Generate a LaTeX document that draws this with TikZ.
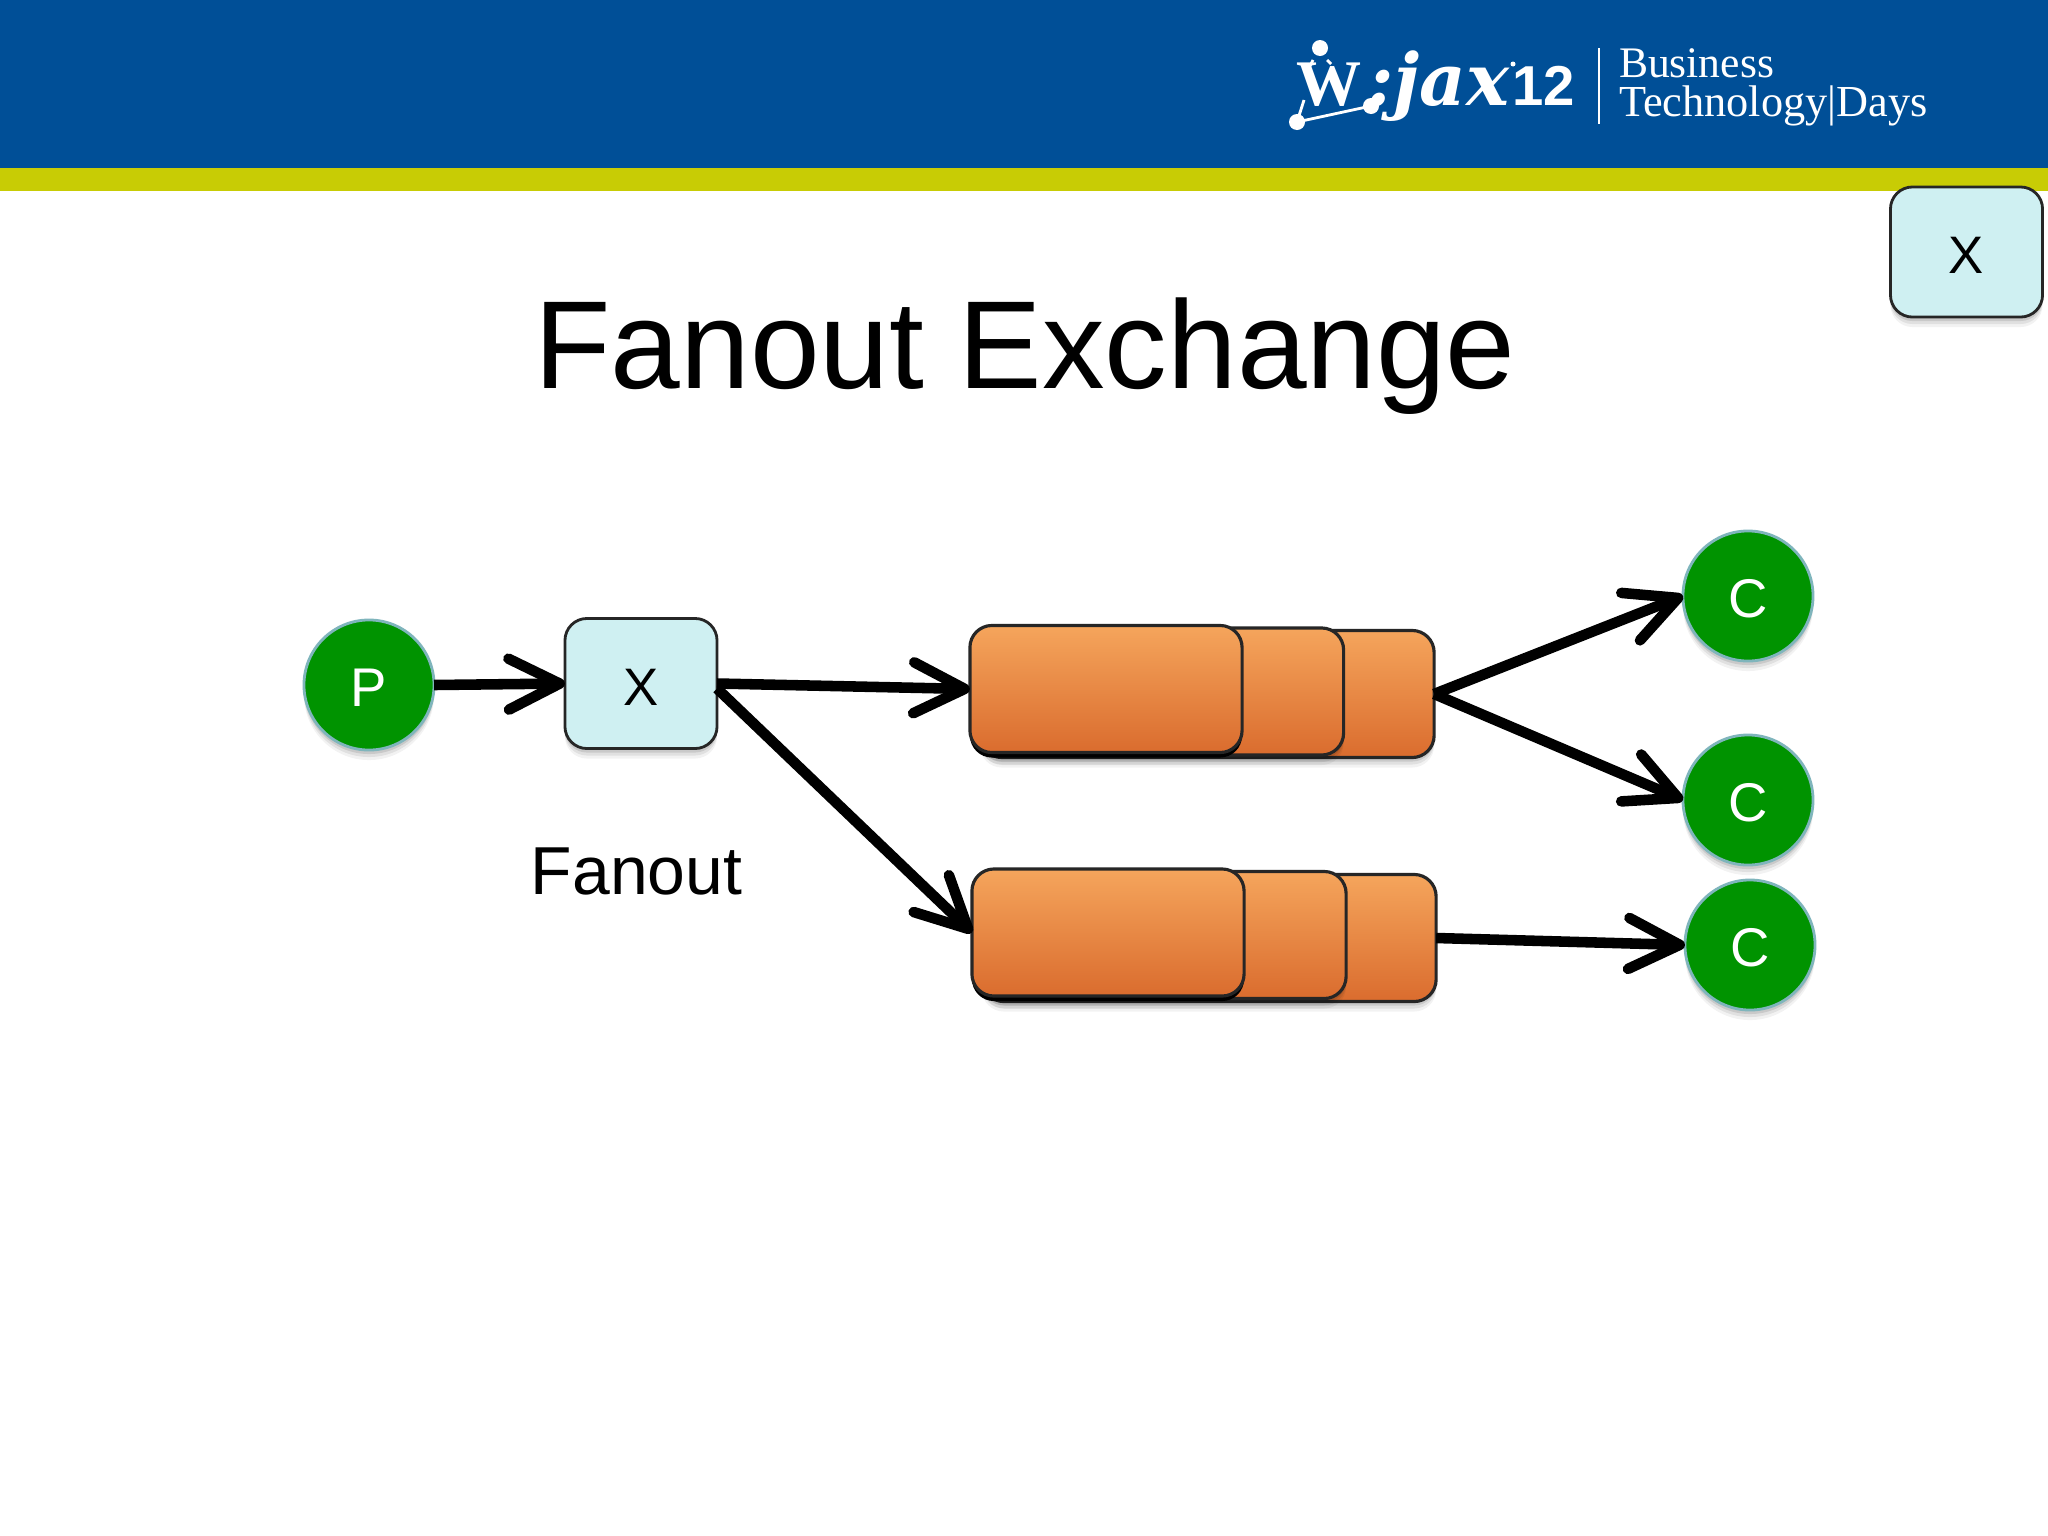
\documentclass[tikz,border=0pt]{standalone}
\usepackage{fontspec}
\setmainfont{Liberation Sans}
\newfontfamily\logoserif{Liberation Serif}
\newfontfamily\jaxfont{DejaVu Serif}
\usetikzlibrary{arrows.meta,shadows}
\definecolor{bandblue}{HTML}{004F97}
\definecolor{bandlime}{HTML}{C8CC05}
\definecolor{exchfill}{HTML}{CFF0F2}
\definecolor{roundgreen}{HTML}{009300}
\definecolor{roundedge}{HTML}{7FB5BC}
\definecolor{queuetop}{HTML}{F5A55C}
\definecolor{queuebot}{HTML}{DA6C2E}
\tikzset{
	softshadow/.style={
		general shadow={fill=black,opacity=0.05,shadow yshift=-0.1cm},
		general shadow={fill=black,opacity=0.07,shadow yshift=-0.07cm},
		general shadow={fill=black,opacity=0.1,shadow yshift=-0.04cm}},
	exchbox/.style={draw=black!85,line width=0.8pt,fill=exchfill,rounded corners=0.22cm,minimum width=1.52cm,minimum height=1.3cm,inner sep=0pt,outer sep=0pt,softshadow,text height=0.43cm,text depth=0cm,font=\fontsize{15}{15}\selectfont},
	roundnode/.style={circle,draw=roundedge,line width=0.8pt,fill=roundgreen,text=white,minimum size=1.3cm,inner sep=0pt,outer sep=0pt,softshadow,text height=0.43cm,text depth=0cm,font=\fontsize{15.5}{15.5}\selectfont},
	queuebox/.style={draw=black!85,line width=0.9pt,top color=queuetop,bottom color=queuebot,rounded corners=0.22cm,inner sep=0pt,outer sep=0pt,minimum height=1.27cm},
	backqueue/.style={queuebox,softshadow},
	bigqueue/.style={queuebox,general shadow={fill=black,shadow yshift=-0.05cm}},
	flow/.style={->,line width=3pt,black},
	logotext/.style={text=white,anchor=base west,inner sep=0pt,outer sep=0pt}
}
\begin{document}
\begin{tikzpicture}[x=0.01cm,y=-0.01cm,line join=round,>={Straight Barb[round,length=14.5pt,width=14.5pt]}]
	\useasboundingbox (0,0) rectangle (2048,1536);
	\fill[white] (0,0) rectangle (2048,1536);
	\fill[bandblue] (0,0) rectangle (2048,168);
	\fill[bandlime] (0,168) rectangle (2048,191);

	\node[logotext,font=\logoserif\bfseries\fontsize{18.5}{18.5}\selectfont] (logow) at (1296,105) {W};
	\node[logotext,font=\jaxfont\bfseries\itshape\fontsize{20.5}{20.5}\selectfont] (logoj) at (1367,105) {:jax};
	\node[logotext,font=\bfseries\fontsize{16}{16}\selectfont] (logotw) at (1512,105) {12};
	\fill[white] (1320,48) circle (8) (1297,122) circle (8) (1371,106) circle (8) (1513,64) circle (2.5);
	\draw[white,line width=0.8pt] (1297,122)--(1371,106) (1297,122)--(1304,100) (1313,60)--(1310,66) (1327,60)--(1331,64);
	\draw[white,line width=0.7pt] (1599,48)--(1599,124);
	\node[logotext,font=\logoserif\fontsize{12.4}{12.4}\selectfont] (logob) at (1619,77) {Business};
	\node[logotext,font=\logoserif\fontsize{12.6}{12.6}\selectfont] (logot) at (1619,116) {Technology|Days};

	\node[font=\fontsize{35.6}{35.6}\selectfont,anchor=base,inner sep=0pt] (title) at (1025,388) {Fanout Exchange};
	\node[exchbox] (xcorner) at (1966.5,252) {X};

	\node[roundnode] (p) at (369,685) {P};
	\node[exchbox] (x) at (641,683.5) {X};
	\node[font=\fontsize{19.3}{19.3}\selectfont,anchor=base,inner sep=0pt] (fanout) at (636.5,894) {Fanout};

	\node[backqueue,minimum width=4.54cm] (qa3) at (1207,694) {};
	\node[backqueue,minimum width=3.63cm] (qa2) at (1162,691.5) {};
	\node[bigqueue,minimum width=2.72cm] (qa1) at (1106,689) {};
	\node[backqueue,minimum width=4.54cm] (qb3) at (1209,938) {};
	\node[backqueue,minimum width=3.63cm] (qb2) at (1164.5,935) {};
	\node[bigqueue,minimum width=2.72cm] (qb1) at (1108,932.5) {};

	\node[roundnode] (ca) at (1748,596) {C};
	\node[roundnode] (cb) at (1748,800) {C};
	\node[roundnode] (cc) at (1750,945) {C};

	\draw[flow] (p.east)--(x.west);
	\draw[flow] (x.east)--(qa1.west);
	\draw[flow] ([yshift=-0.05cm]x.east)--(qb1.west);
	\draw[flow] (qa3.east)--(ca.west);
	\draw[flow] (qa3.east)--(cb.west);
	\draw[flow] (qb3.east)--(cc.west);
\end{tikzpicture}
\end{document}
